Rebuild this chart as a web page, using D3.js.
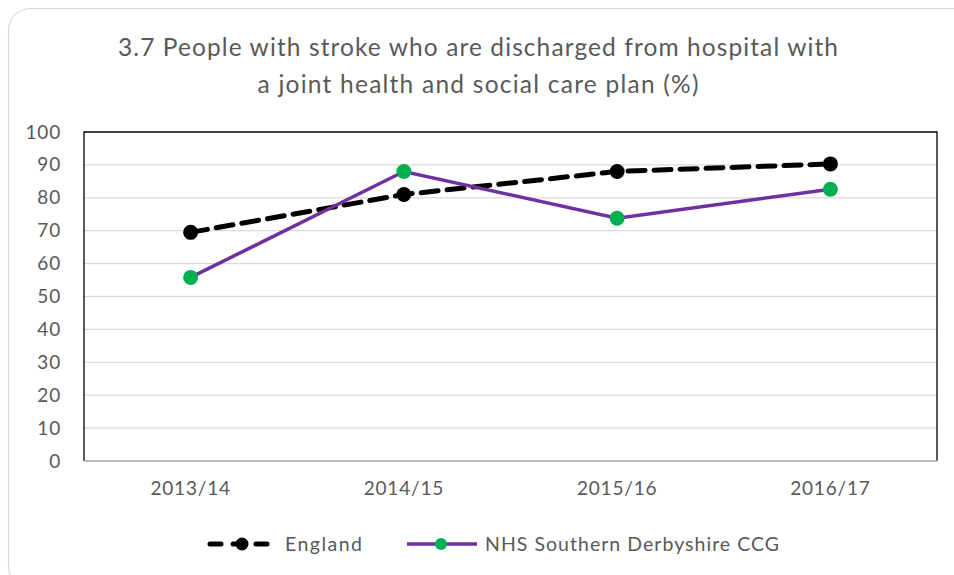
<!DOCTYPE html>
<html>
<head>
<meta charset="utf-8">
<script src="https://cdn.jsdelivr.net/npm/d3@7"></script>
<style>
    body { margin: 0; background: #fff; }
    text { font-family: Lato, "Open Sans", sans-serif; fill: #595959; }
</style>
</head>
<body>
<svg id="chart"></svg>
<script>
// data
const years = ["2013/14", "2014/15", "2015/16", "2016/17"];
const england = [69.5, 81, 88, 90.3];
const derbyshire = [55.8, 88, 73.8, 82.6];
const yTicks = [0, 10, 20, 30, 40, 50, 60, 70, 80, 90, 100];
const titleLines = ["3.7 People with stroke who are discharged from hospital with",
    "a joint health and social care plan (%)"];

const width = 954, height = 575;
const margin = {top: 132, right: 17, bottom: 114, left: 84};
const innerW = width - margin.left - margin.right;
const innerH = height - margin.top - margin.bottom;

const svg = d3.select("#chart")
    .attr("width", width)
    .attr("height", height);

// outer chart border
svg.append("rect")
    .attr("x", 8.5).attr("y", 8.5)
    .attr("width", 970).attr("height", 580)
    .attr("rx", 22)
    .attr("fill", "#fff")
    .attr("stroke", "#d9d9d9")
    .attr("stroke-width", 1.2);

// title - widths stretched to match the excel rendering
const titleWidths = [720, 441];
svg.append("text")
    .attr("text-anchor", "middle")
    .attr("font-size", 24.5)
    .selectAll("tspan")
    .data(titleLines)
    .join("tspan")
    .attr("x", 478)
    .attr("y", (d, i) => 56 + i * 37)
    .attr("textLength", (d, i) => titleWidths[i])
    .attr("lengthAdjust", "spacing")
    .text(d => d);

const chart = svg.append("g")
    .attr("transform", `translate(${margin.left},${margin.top})`);

const x = d3.scaleBand().domain(years).range([0, innerW]);
const y = d3.scaleLinear().domain([0, 100]).range([innerH, 0]);
const cx = d => x(d) + x.bandwidth() / 2;

// gridlines
chart.append("g")
    .selectAll("line")
    .data(yTicks.filter(t => t > 0 && t < 100))
    .join("line")
    .attr("x1", 0).attr("x2", innerW)
    .attr("y1", d => y(d)).attr("y2", d => y(d))
    .attr("stroke", "#d9d9d9")
    .attr("stroke-width", 1.3);

// plot frame: black top/left/right, grey bottom
chart.append("path")
    .attr("d", `M0,${innerH}V0H${innerW}V${innerH}`)
    .attr("fill", "none")
    .attr("stroke", "#000")
    .attr("stroke-width", 1.3);
chart.append("line")
    .attr("x1", 0).attr("x2", innerW)
    .attr("y1", innerH).attr("y2", innerH)
    .attr("stroke", "#a6a6a6")
    .attr("stroke-width", 1.5);

// y axis
const yAxis = d3.axisLeft(y).tickValues(yTicks).tickSize(0).tickPadding(23);
chart.append("g").call(yAxis)
    .call(g => g.select(".domain").remove())
    .selectAll("text")
    .attr("font-size", 19)
    .attr("letter-spacing", 0.8)
    .attr("font-family", "Lato, sans-serif")
    .attr("fill", "#595959");

// x axis
const xAxis = d3.axisBottom(x).tickSize(0).tickPadding(21);
chart.append("g")
    .attr("transform", `translate(0,${innerH})`)
    .call(xAxis)
    .call(g => g.select(".domain").remove())
    .selectAll("text")
    .attr("font-size", 19)
    .attr("letter-spacing", 0.8)
    .attr("font-family", "Lato, sans-serif")
    .attr("fill", "#595959");

const line = d3.line()
    .x((d, i) => cx(years[i]))
    .y(d => y(d));

// England (dashed black)
chart.append("path")
    .datum(england)
    .attr("d", line)
    .attr("fill", "none")
    .attr("stroke", "#000")
    .attr("stroke-width", 5)
    .attr("stroke-dasharray", "17,9")
    .attr("stroke-linecap", "round");
chart.append("g")
    .selectAll("circle")
    .data(england)
    .join("circle")
    .attr("cx", (d, i) => cx(years[i]))
    .attr("cy", d => y(d))
    .attr("r", 7.5)
    .attr("fill", "#000");

// Derbyshire (purple line, green markers)
chart.append("path")
    .datum(derbyshire)
    .attr("d", line)
    .attr("fill", "none")
    .attr("stroke", "#7030a0")
    .attr("stroke-width", 3.5);
chart.append("g")
    .selectAll("circle")
    .data(derbyshire)
    .join("circle")
    .attr("cx", (d, i) => cx(years[i]))
    .attr("cy", d => y(d))
    .attr("r", 7.5)
    .attr("fill", "#00b050");

// legend
const legend = svg.append("g").attr("transform", "translate(0,544)");
legend.append("line")
    .attr("x1", 210).attr("x2", 274)
    .attr("stroke", "#000").attr("stroke-width", 5)
    .attr("stroke-dasharray", "11,12")
    .attr("stroke-linecap", "round");
legend.append("circle").attr("cx", 242).attr("cy", 0).attr("r", 6.5).attr("fill", "#000");
legend.append("text").attr("x", 285).attr("y", 7).attr("font-size", 19.5)
    .attr("textLength", 77).attr("lengthAdjust", "spacing").text("England");

legend.append("line")
    .attr("x1", 407).attr("x2", 477)
    .attr("stroke", "#7030a0").attr("stroke-width", 3.5);
legend.append("circle").attr("cx", 441).attr("cy", 0).attr("r", 6).attr("fill", "#00b050");
legend.append("text").attr("x", 485).attr("y", 7).attr("font-size", 19.5)
    .attr("textLength", 294).attr("lengthAdjust", "spacing").text("NHS Southern Derbyshire CCG");
</script>
</body>
</html>
